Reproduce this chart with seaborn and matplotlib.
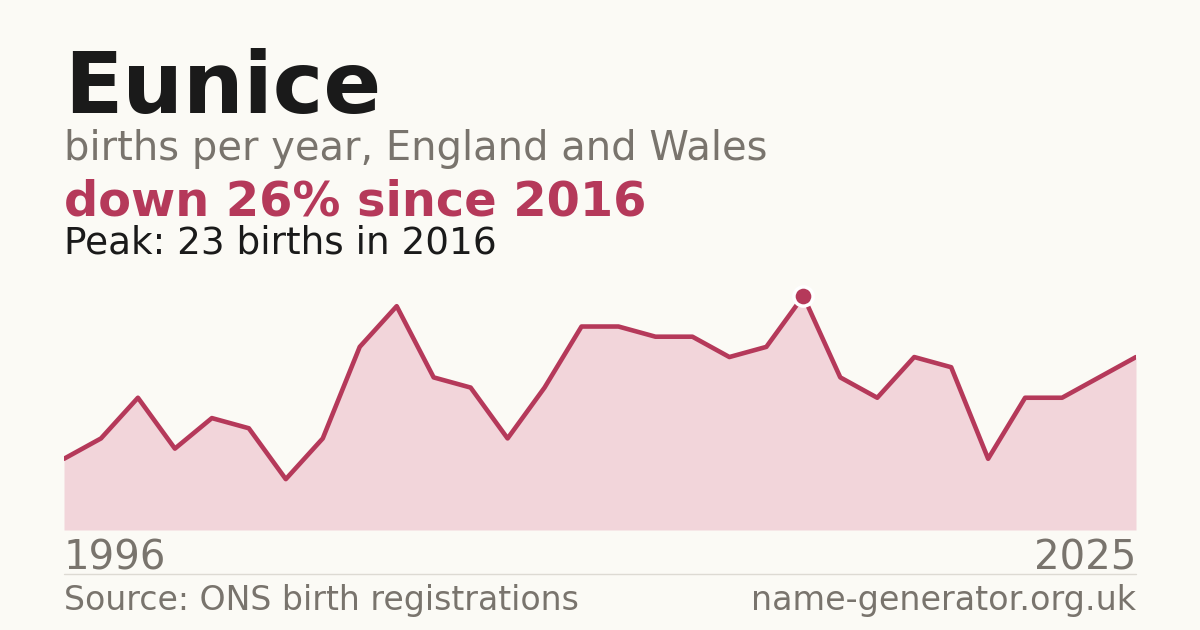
import matplotlib
matplotlib.use('Agg')
import matplotlib.pyplot as plt
import seaborn as sns
import pandas as pd

# Births per year for the name
years = list(range(1996, 2026))
births = [7, 9, 13, 8, 11, 10, 5, 9, 18, 22,
          15, 14, 9, 14, 20, 20, 19, 19, 17, 18,
          23, 15, 13, 17, 16, 7, 13, 13, 15, 17]
peak_year = 2016
peak_value = 23

bg = '#fbfaf5'
red = '#b5395a'
fill = '#f2d5da'
grey = '#79746d'
dark = '#1a1a1a'

df = pd.DataFrame({'year': years, 'births': births})

sns.set_theme(style='white')
plt.rcParams['font.family'] = ['DejaVu Sans']

fig = plt.figure(figsize=(12, 6.3), dpi=100, facecolor=bg)
W, H = 1200, 630

# plot area in pixel coords
left, right, top, bottom = 64, 1136, 280, 530
ax = fig.add_axes([left / W, (H - bottom) / H, (right - left) / W, (bottom - top) / H])
ax.set_facecolor(bg)

ax.fill_between(df['year'], df['births'], 0, color=fill, linewidth=0, zorder=1)
sns.lineplot(data=df, x='year', y='births', color=red, linewidth=3.3, ax=ax, zorder=2)
pk = df[df['year'] == peak_year]
ax.scatter(pk['year'], pk['births'], s=190, color=red, edgecolor='white', linewidth=2.5, zorder=3)

ax.set_xlim(years[0], years[-1])
ax.set_ylim(0, peak_value * (bottom - top) / 234)
ax.axis('off')

def ftext(x, y, s, **kw):
    fig.text(x / W, (H - y) / H, s, va='baseline', **kw)

ftext(64, 113, 'Eunice', fontsize=61.5, fontweight='bold', color=dark)
ftext(64, 160, 'births per year, England and Wales', fontsize=28.8, color=grey)
ftext(64, 215, 'down 26% since 2016', fontsize=34.5, fontweight='bold', color=red)
ftext(64, 254, 'Peak: 23 births in 2016', fontsize=26.9, color=dark)
ftext(64, 570, str(years[0]), fontsize=29, color=grey)
ftext(1136, 570, str(years[-1]), fontsize=29, color=grey, ha='right')
ftext(64, 610, 'Source: ONS birth registrations', fontsize=23.9, color=grey)
ftext(1136, 610, 'name-generator.org.uk', fontsize=24, color=grey, ha='right')

fig.add_artist(plt.Line2D([left / W, right / W], [(H - 574) / H] * 2, color='#dddad3', linewidth=1))

fig.savefig('out.png', dpi=100, facecolor=bg)
